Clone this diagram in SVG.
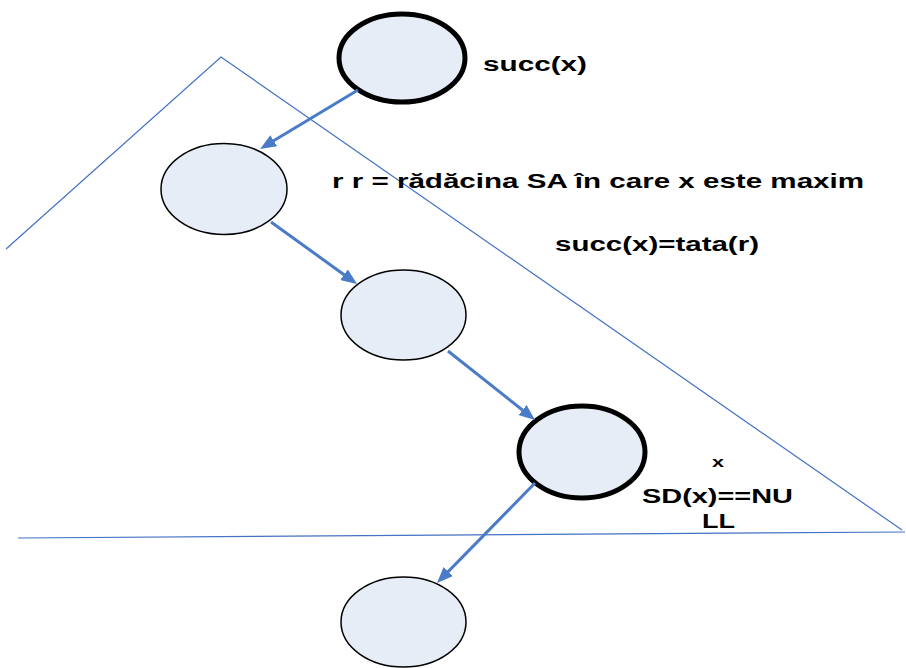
<svg xmlns="http://www.w3.org/2000/svg" width="906" height="668" viewBox="0 0 906 668">
<style>
.tri{fill:none;stroke:#4472C4;stroke-width:1.2}
.node{fill:#E7EDF7;stroke:#000;stroke-width:1.5}
.bold{stroke-width:5}
.arr{stroke:#4A7BC6;stroke-width:3;fill:none}
text{font-family:"Liberation Sans",Arial,sans-serif;font-weight:bold;font-size:20px;fill:#000}
</style>
<defs>
<marker id="ah" markerUnits="userSpaceOnUse" markerWidth="16" markerHeight="13" refX="6" refY="6.5" orient="auto">
<path d="M0,0 L16,6.5 L0,13 z" fill="#4A7BC6"/>
</marker>
</defs>
<g id="triangle">
<polyline class="tri" points="6,249 221,57 902,530"/>
<line class="tri" x1="18" y1="538" x2="905" y2="532"/>
</g>
<g id="n1"><ellipse class="node bold" cx="402" cy="58" rx="63" ry="44"/></g>
<g id="n2"><ellipse class="node" cx="224" cy="189" rx="63" ry="45.5"/></g>
<g id="n3"><ellipse class="node" cx="403.5" cy="315" rx="62.5" ry="45"/></g>
<g id="n4"><ellipse class="node bold" cx="582" cy="452" rx="63" ry="46"/></g>
<g id="n5"><ellipse class="node" cx="403.5" cy="622" rx="62.5" ry="45"/></g>
<g id="connectors">
<line class="arr" x1="358" y1="90" x2="268.6" y2="143.8" marker-end="url(#ah)"/>
<line class="arr" x1="271" y1="222" x2="348.9" y2="278.2" marker-end="url(#ah)"/>
<line class="arr" x1="448" y1="351" x2="527.2" y2="413.8" marker-end="url(#ah)"/>
<line class="arr" x1="535" y1="483" x2="444" y2="575.9" marker-end="url(#ah)"/>
</g>
<g id="labels">
<text x="483" y="71" textLength="104" lengthAdjust="spacingAndGlyphs">succ(x)</text>
<text x="332" y="188" textLength="532" lengthAdjust="spacingAndGlyphs">r r = rădăcina SA în care x este maxim</text>
<text x="555" y="251" textLength="204" lengthAdjust="spacingAndGlyphs">succ(x)=tata(r)</text>
<text x="712" y="467" style="font-size:15px" textLength="12" lengthAdjust="spacingAndGlyphs">x</text>
<text x="642" y="503" textLength="151" lengthAdjust="spacingAndGlyphs">SD(x)==NU</text>
<text x="702" y="528" textLength="33" lengthAdjust="spacingAndGlyphs">LL</text>
</g>
</svg>
